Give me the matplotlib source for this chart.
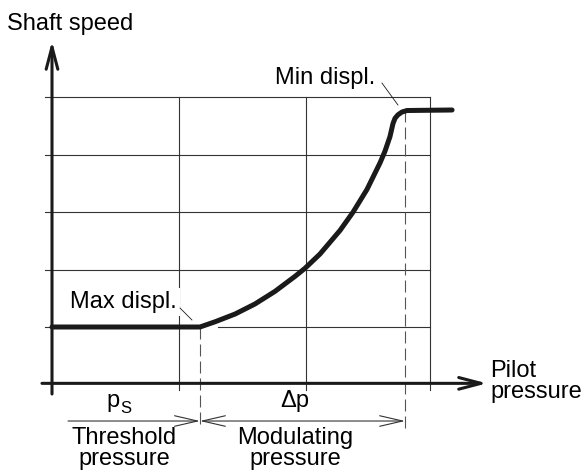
#Pilot pressure vs shaft speed (displacement control sketch)

import matplotlib.pyplot as plt

plt.rcParams['font.family'] = ['Liberation Sans', 'DejaVu Sans']

#Data (grid units)
grid_x = [1, 2, 2.98]
grid_y = [1, 2, 3, 4, 5]

pilot = [0, 1.165, 1.283, 1.441, 1.598, 1.756, 1.913, 1.992, 2.110, 2.268,
         2.370, 2.480, 2.583, 2.622, 2.661, 2.685, 2.701, 2.724, 2.756, 2.795, 3.15]
speed = [1, 1, 1.09, 1.225, 1.40, 1.62, 1.88, 2.021, 2.269, 2.680,
         2.996, 3.392, 3.855, 4.058, 4.31, 4.538, 4.63, 4.69, 4.739, 4.765, 4.774]

p_start = 1.165   # threshold pressure
p_end = 2.78      # end of modulation
dim_y = -0.635
drop_y = -0.757

#Figure
fig = plt.figure(figsize=(5.84, 4.71), dpi=100)
ax = fig.add_axes([0, 0, 1, 1])
ax.set_xlim(-52 / 127, (584 - 52) / 127)
ax.set_ylim(-(471 - 384.5) / 57.5, 384.5 / 57.5)
ax.axis('off')

gc = '#333333'
glw = 0.8

#grid
for gy in grid_y:
    if gy == 1:
        ax.plot([-0.055, p_start], [gy, gy], color=gc, lw=glw, zorder=1)
        ax.plot([1.31, grid_x[-1]], [gy, gy], color=gc, lw=glw, zorder=1)
    else:
        ax.plot([-0.055, grid_x[-1]], [gy, gy], color=gc, lw=glw, zorder=1)
for gx in grid_x:
    ax.plot([gx, gx], [-0.096, grid_y[-1]], color=gc, lw=glw, zorder=1)

#axes with arrows
arrow_kw = dict(arrowstyle='->,head_length=1.6,head_width=0.42', lw=2.2,
                color='#1a1a1a', shrinkA=0, shrinkB=0, mutation_scale=10)
ax.annotate('', xy=(0, 5.974), xytext=(0, -0.165), arrowprops=arrow_kw, zorder=3)
ax.annotate('', xy=(3.425, 0.02), xytext=(-0.079, 0.02), arrowprops=arrow_kw, zorder=3)

#curve
ax.plot(pilot, speed, color='#1a1a1a', lw=3.6, solid_capstyle='round',
        solid_joinstyle='round', zorder=4)

#dashed drop lines
dash_kw = dict(color='#555555', lw=0.8, dashes=(10.8, 4.5), zorder=2)
ax.plot([p_start, p_start], [speed[1], drop_y], **dash_kw)
ax.plot([p_end, p_end], [speed[-1], drop_y], **dash_kw)

#dimension line
dim_kw = dict(lw=0.8, color='#333333', shrinkA=0, shrinkB=0, mutation_scale=10)
ax.annotate('', xy=(p_start, dim_y), xytext=(0.126, dim_y),
            arrowprops=dict(arrowstyle='->,head_length=1.65,head_width=0.38', **dim_kw))
ax.annotate('', xy=(p_end, dim_y), xytext=(p_start, dim_y),
            arrowprops=dict(arrowstyle='<->,head_length=1.65,head_width=0.38', **dim_kw))

#labels
fs = 17
ax.text(-0.354, 6.165, 'Shaft speed', fontsize=fs, va='baseline', ha='left')
ax.text(3.449, 0.13, 'Pilot', fontsize=fs, va='baseline', ha='left')
ax.text(3.449, -0.235, 'pressure', fontsize=fs, va='baseline', ha='left')

ax.text(0.535, -0.391, 'p', fontsize=fs, va='baseline', ha='right')
ax.text(0.535, -0.496, 'S', fontsize=12, va='baseline', ha='left')
ax.text(1.913, -0.391, '\u0394p', fontsize=fs, va='baseline', ha='center')
ax.text(0.567, -1.035, 'Threshold', fontsize=fs, va='baseline', ha='center')
ax.text(0.567, -1.40, 'pressure', fontsize=fs, va='baseline', ha='center')
ax.text(1.913, -1.035, 'Modulating', fontsize=fs, va='baseline', ha='center')
ax.text(1.913, -1.40, 'pressure', fontsize=fs, va='baseline', ha='center')

ax.text(2.543, 5.226, 'Min displ.', fontsize=fs, va='baseline', ha='right')
ax.plot([2.598, 2.724], [5.243, 4.861], color='#1a1a1a', lw=0.6, zorder=3)
ax.text(0.984, 1.33, 'Max displ.', fontsize=fs, va='baseline', ha='right',
        bbox=dict(fc='white', ec='none', pad=2), zorder=3)
ax.plot([1.008, 1.102], [1.33, 1.122], color='#1a1a1a', lw=0.6, zorder=3)

plt.savefig('out.png', dpi=100)
